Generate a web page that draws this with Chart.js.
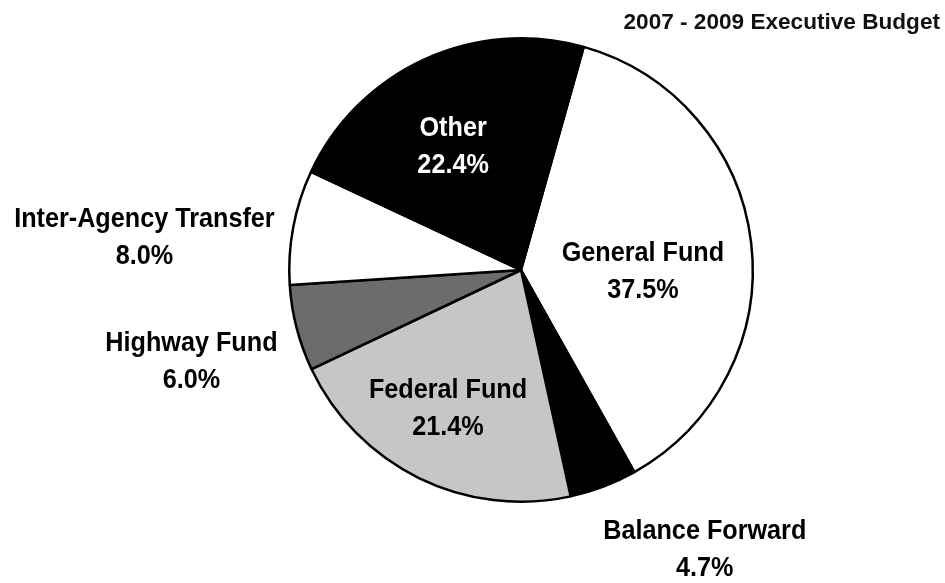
<!DOCTYPE html>
<html>
<head>
<meta charset="utf-8">
<title>2007 - 2009 Executive Budget</title>
<script src="https://cdn.jsdelivr.net/npm/chart.js@4.4.0/dist/chart.umd.min.js"></script>
<style>
    html, body { margin: 0; padding: 0; background: #ffffff; }
    #wrap { width: 945px; height: 583px; }
</style>
</head>
<body>
<div id="wrap"><canvas id="grafica_budget" width="945" height="583"></canvas></div>
<script>
// Datos del presupuesto (porcentajes).
var chartTitle = '2007 - 2009 Executive Budget';
var fundNames = ['General Fund', 'Balance Forward', 'Federal Fund', 'Highway Fund',
    'Inter-Agency Transfer', 'Other'];
var fundShares = [37.5, 4.7, 21.4, 6.0, 8.0, 22.4];
var fundColors = ['#ffffff', '#000000', '#c6c6c6', '#6c6c6c', '#ffffff', '#000000'];
var labelColors = ['#000000', '#000000', '#000000', '#000000', '#000000', '#ffffff'];

// Posicion de cada etiqueta relativa al centro del pastel, en radios.
var labelOffsets = [[0.526, -0.004], [0.793, 1.196], [-0.315, 0.586],
    [-1.422, 0.384], [-1.625, -0.151], [-0.293, -0.543]];

var labelFont = 'bold 28px "Liberation Sans", Arial, sans-serif';
var titleFont = 'bold 22.6px "Liberation Sans", Arial, sans-serif';

// Dibuja el titulo y las etiquetas de cada rebanada.
var pieLabels = {
    id: 'pieLabels',
    afterDraw: function (chart) {
        var ctx = chart.ctx;
        var meta = chart.getDatasetMeta(0);
        var arc = meta.data[0];
        var cx = arc.x;
        var cy = arc.y;
        var r = arc.outerRadius;

        ctx.save();
        ctx.font = titleFont;
        ctx.fillStyle = '#111111';
        ctx.textAlign = 'right';
        ctx.textBaseline = 'alphabetic';
        ctx.fillText(chartTitle, 940, 29);

        ctx.font = labelFont;
        ctx.textAlign = 'center';
        for (var i = 0; i < fundNames.length; i++) {
            var x = cx + labelOffsets[i][0] * r;
            var y = cy + labelOffsets[i][1] * r;
            ctx.fillStyle = labelColors[i];
            ctx.save();
            ctx.translate(x, y);
            ctx.scale(0.9, 1);
            ctx.fillText(fundNames[i], 0, -18 + 10);
            ctx.fillText(fundShares[i].toFixed(1) + '%', 0, 19 + 10);
            ctx.restore();
        }
        ctx.restore();
    }
};

var context = document.getElementById('grafica_budget').getContext('2d');
var chart = new Chart(context, {
    type: 'pie',
    data: {
        labels: fundNames,
        datasets: [{
            data: fundShares,
            backgroundColor: fundColors,
            borderColor: '#000000',
            borderWidth: 2.5
        }]
    },
    options: {
        responsive: false,
        animation: false,
        rotation: 15.7,
        layout: {
            padding: { top: 37, bottom: 80, left: 288, right: 191 }
        },
        plugins: {
            legend: { display: false },
            tooltip: { enabled: false },
            title: { display: false }
        }
    },
    plugins: [pieLabels]
});
</script>
</body>
</html>
